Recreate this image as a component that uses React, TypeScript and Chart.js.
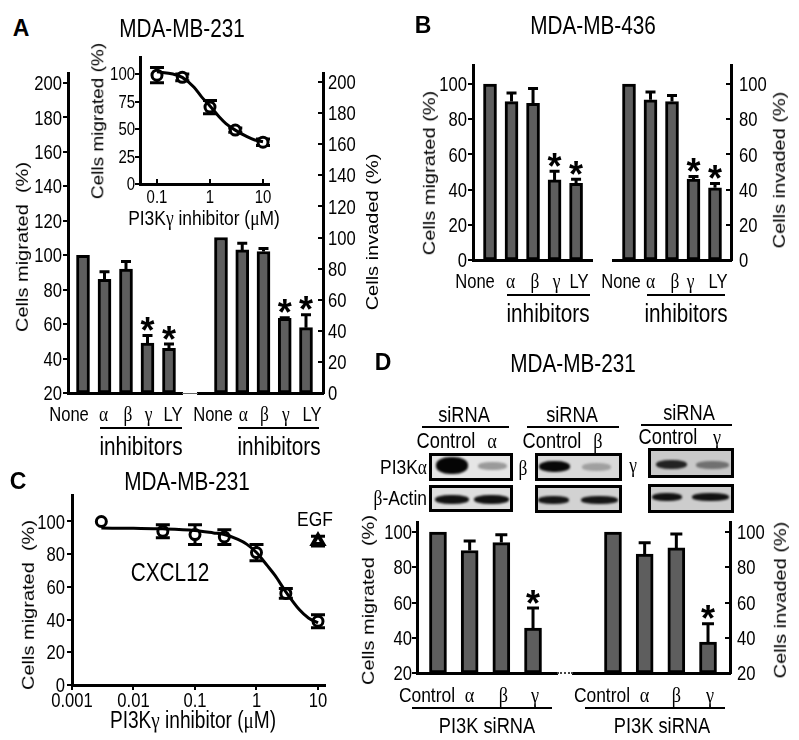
import React, { useEffect, useRef } from 'react';
import { Chart, registerables } from 'chart.js';
Chart.register(...registerables);

const SANS = '"Liberation Sans", Arial, sans-serif';
const SERIF = '"Liberation Serif", "Times New Roman", serif';
const BAR_FILL = '#5e5e5e';
const CX = 0.83; // horizontal condensing of all horizontal text

// ---------- Panel A (MDA-MB-231, inhibitors) ----------
const aLabels = ['None', 'α', 'β', 'γ', 'LY'];
const aMigrated = [100, 86, 92, 49, 46];
const aMigratedErr = [0, 5, 5, 5, 3];
const aInvaded = [100, 92, 91, 48, 42];
const aInvadedErr = [0, 5, 2.5, 1, 9];
const aStars = [false, false, false, true, true];
const aMigTicks = [20, 40, 60, 80, 100, 120, 140, 160, 180, 200];
const aInvTicks = [0, 20, 40, 60, 80, 100, 120, 140, 160, 180, 200];

// Inset of A (dose response)
const insetDose = [0.1, 0.3, 1, 3, 10];
const insetMean = [99, 97, 70, 49, 38];
const insetErr = [7, 3, 6, 2, 3];
const insetFitDose = [0.1, 0.2, 0.3, 0.5, 0.7, 1, 1.5, 2, 3, 5, 7, 10];
const insetFitMean = [102, 100, 97, 88, 79, 71, 61, 55, 49, 43, 40, 38.5];
const insetYTicks = [0, 25, 50, 75, 100];
const insetXTicks = [0.1, 1, 10];

// ---------- Panel B (MDA-MB-436) ----------
const bLabels = ['None', 'α', 'β', 'γ', 'LY'];
const bMigrated = [100, 90, 89, 45.5, 43.5];
const bMigratedErr = [0, 5.5, 9, 5.5, 3];
const bInvaded = [100, 91, 90, 46, 41];
const bInvadedErr = [0, 5, 4, 2, 3];
const bStars = [false, false, false, true, true];
const bTicks = [0, 20, 40, 60, 80, 100];

// ---------- Panel C (dose response) ----------
const cDose = [0.003, 0.03, 0.1, 0.3, 1, 3, 10];
const cMean = [100, 94, 92, 90.5, 81, 56, 39];
const cErr = [0, 4, 6, 4.5, 5, 3, 4];
const cFitDose = [0.003, 0.01, 0.03, 0.1, 0.2, 0.3, 0.5, 0.7, 1, 1.5, 2, 3, 5, 7, 10];
const cFitMean = [96, 95.8, 95.5, 94.5, 93, 92, 89, 86, 81, 73, 67, 57, 46, 41, 38];
const egfDose = [10];
const egfMean = [88];
const egfErr = [3];
const cYTicks = [0, 20, 40, 60, 80, 100];
const cXTicks = [0.001, 0.01, 0.1, 1, 10];

// ---------- Panel D (siRNA) ----------
const dLabels = ['Control', 'α', 'β', 'γ'];
const dMigrated = [100, 89.5, 94, 45.5];
const dMigratedErr = [0, 6, 5, 12];
const dInvaded = [100, 87.5, 91, 37.5];
const dInvadedErr = [0, 7, 8.5, 11];
const dStars = [false, false, false, true];
const dTicks = [20, 40, 60, 80, 100];

// ---------- layout helpers ----------
type Area = { l: number; t: number; r: number; b: number };
const M = { l: 60, r: 60, t: 24, b: 44 };

function canvasRect(a: Area) {
  return { x: a.l - M.l, y: a.t - M.t, w: a.r - a.l + M.l + M.r, h: a.b - a.t + M.t + M.b };
}

const greek = (s?: string) => !!s && /^[αβγ]$/.test(s);

function cText(ctx: any, s: string, x: number, y: number, font: string, align: string) {
  ctx.save();
  ctx.translate(x, y);
  ctx.scale(CX, 1);
  ctx.font = font;
  ctx.textAlign = align;
  ctx.textBaseline = 'alphabetic';
  ctx.fillStyle = '#000';
  ctx.fillText(s, 0, 0);
  ctx.restore();
}

interface LabelSpec {
  ySize: number;
  yGap: number;
  xSize: number;
  xBase: number;
  xLabel: (v: number, i: number) => string;
  xShift?: number[];
}

function drawLabels(chart: any, spec: LabelSpec) {
  const ctx = chart.ctx;
  const a = chart.chartArea;
  const ys = chart.scales.y;
  const xs = chart.scales.x;
  const right = ys.options.position === 'right';
  ys.ticks.forEach((t: any) => {
    const p = ys.getPixelForValue(t.value);
    cText(
      ctx,
      String(t.value),
      right ? a.right + spec.yGap : a.left - spec.yGap,
      p + 0.358 * spec.ySize,
      `${spec.ySize}px ${SANS}`,
      right ? 'left' : 'right'
    );
  });
  xs.ticks.forEach((t: any, i: number) => {
    const label = spec.xLabel(t.value, i);
    const g = greek(label);
    const dx = spec.xShift ? spec.xShift[i] || 0 : 0;
    cText(
      ctx,
      label,
      xs.getPixelForValue(t.value) + dx,
      a.bottom + spec.xBase,
      `${g ? spec.xSize + 1 : spec.xSize}px ${g ? SERIF : SANS}`,
      'center'
    );
  });
}

function drawTickMarks(chart: any, yDir: 'in' | 'out', xDir: 'in' | 'out' | 'none', len = 5) {
  const ctx = chart.ctx;
  const a = chart.chartArea;
  const ys = chart.scales.y;
  const xs = chart.scales.x;
  ctx.save();
  ctx.strokeStyle = '#000';
  ctx.lineWidth = 2;
  ctx.beginPath();
  const right = ys.options.position === 'right';
  const edge = right ? a.right : a.left;
  const sgn = (right ? 1 : -1) * (yDir === 'out' ? 1 : -1);
  ys.ticks.forEach((t: any) => {
    const p = Math.round(ys.getPixelForValue(t.value));
    ctx.moveTo(edge, p);
    ctx.lineTo(edge + sgn * len, p);
  });
  if (xDir !== 'none') {
    const s = xDir === 'out' ? 1 : -1;
    xs.ticks.forEach((t: any) => {
      const p = Math.round(xs.getPixelForValue(t.value));
      ctx.moveTo(p, a.bottom);
      ctx.lineTo(p, a.bottom + s * len);
    });
  }
  ctx.stroke();
  ctx.restore();
}

function axisBase(min: number, max: number, ticks: number[], fit: (s: any) => void, extra: any = {}) {
  return {
    min,
    max,
    offset: false,
    grid: { display: false },
    border: { display: true, color: '#000', width: 3 },
    ticks: { display: false },
    afterBuildTicks: (s: any) => {
      s.ticks = ticks.map((v) => ({ value: v }));
    },
    afterFit: fit,
    ...extra,
  };
}

interface BarCfg {
  side: 'left' | 'right';
  yMin: number;
  yMax: number;
  yTicks: number[];
  yGap: number;
  xMin: number;
  xMax: number;
  labels: string[];
  xShift: number[];
  xBase: number;
  labelSize: number;
  values: number[];
  errs: number[];
  stars: boolean[];
  barW: number;
  cap: number;
}

function barConfig(c: BarCfg) {
  const plugin = {
    id: 'marks',
    afterDatasetsDraw(chart: any) {
      const ctx = chart.ctx;
      const ys = chart.scales.y;
      const meta = chart.getDatasetMeta(0);
      ctx.save();
      ctx.strokeStyle = '#000';
      ctx.fillStyle = '#000';
      ctx.lineWidth = 3;
      c.values.forEach((v, i) => {
        const e = c.errs[i];
        const x = meta.data[i].x;
        const top = ys.getPixelForValue(v + e);
        if (e > 0) {
          const base = ys.getPixelForValue(v);
          ctx.beginPath();
          ctx.moveTo(x, base);
          ctx.lineTo(x, top);
          ctx.moveTo(x - c.cap / 2, top + 1);
          ctx.lineTo(x + c.cap / 2, top + 1);
          ctx.stroke();
        }
        if (c.stars[i]) {
          const size = 36;
          ctx.font = `bold ${size}px ${SANS}`;
          ctx.textAlign = 'center';
          ctx.textBaseline = 'alphabetic';
          ctx.fillText('*', x, top - 12 + 0.573 * size);
        }
      });
      ctx.restore();
    },
    afterDraw(chart: any) {
      drawTickMarks(chart, c.side === 'left' ? 'out' : 'in', 'none');
      drawLabels(chart, {
        ySize: 20,
        yGap: c.yGap,
        xSize: c.labelSize,
        xBase: c.xBase,
        xLabel: (v) => c.labels[v],
        xShift: c.xShift,
      });
    },
  };
  return {
    type: 'bar',
    data: {
      datasets: [
        {
          data: c.values.map((v, i) => ({ x: i, y: v })),
          backgroundColor: BAR_FILL,
          borderColor: '#000',
          borderWidth: 3,
          borderSkipped: false,
          barThickness: c.barW,
          base: c.yMin,
        },
      ],
    },
    options: {
      animation: false,
      responsive: false,
      devicePixelRatio: 1,
      events: [],
      layout: {
        padding: { left: c.side === 'left' ? 0 : M.l, right: c.side === 'right' ? 0 : M.r, top: M.t, bottom: 0 },
      },
      plugins: { legend: { display: false }, tooltip: { enabled: false } },
      scales: {
        x: axisBase(
          c.xMin,
          c.xMax,
          c.labels.map((_, i) => i),
          (s: any) => {
            s.height = M.b;
          },
          { type: 'linear' }
        ),
        y: axisBase(
          c.yMin,
          c.yMax,
          c.yTicks,
          (s: any) => {
            s.width = c.side === 'left' ? M.l : M.r;
          },
          { type: 'linear', position: c.side }
        ),
      },
    },
    plugins: [plugin],
  };
}

interface Series {
  dose: number[];
  mean: number[];
  err: number[];
}

interface CurveCfg {
  xMin: number;
  xMax: number;
  xTicks: number[];
  yMax: number;
  yTicks: number[];
  yGap: number;
  xBase: number;
  tickSize: number;
  points: Series;
  fitDose: number[];
  fitMean: number[];
  extra?: Series;
  cap: number;
  xDir: 'in' | 'out';
}

function curveConfig(c: CurveCfg) {
  const series: Series[] = c.extra ? [c.points, c.extra] : [c.points];
  const plugin = {
    id: 'marks',
    beforeDatasetsDraw(chart: any) {
      const ctx = chart.ctx;
      const xs = chart.scales.x;
      const ys = chart.scales.y;
      ctx.save();
      ctx.strokeStyle = '#000';
      ctx.lineWidth = 3;
      series.forEach((s) =>
        s.dose.forEach((d, i) => {
          const e = s.err[i];
          if (!e) return;
          const x = xs.getPixelForValue(d);
          const t = ys.getPixelForValue(s.mean[i] + e);
          const b = ys.getPixelForValue(s.mean[i] - e);
          ctx.beginPath();
          ctx.moveTo(x, t);
          ctx.lineTo(x, b);
          ctx.moveTo(x - c.cap / 2, t);
          ctx.lineTo(x + c.cap / 2, t);
          ctx.moveTo(x - c.cap / 2, b);
          ctx.lineTo(x + c.cap / 2, b);
          ctx.stroke();
        })
      );
      ctx.restore();
    },
    afterDraw(chart: any) {
      drawTickMarks(chart, 'out', c.xDir);
      drawLabels(chart, {
        ySize: c.tickSize,
        yGap: c.yGap,
        xSize: c.tickSize,
        xBase: c.xBase,
        xLabel: (v) => String(v),
      });
    },
  };
  const datasets: any[] = [
    {
      data: c.fitDose.map((x, i) => ({ x, y: c.fitMean[i] })),
      borderColor: '#000',
      borderWidth: 3,
      pointRadius: 0,
      cubicInterpolationMode: 'monotone',
      fill: false,
      clip: false,
    },
    {
      data: c.points.dose.map((x, i) => ({ x, y: c.points.mean[i] })),
      showLine: false,
      pointStyle: 'circle',
      pointRadius: 5,
      pointBorderWidth: 3,
      pointBackgroundColor: '#fff',
      pointBorderColor: '#000',
      clip: false,
    },
  ];
  if (c.extra) {
    datasets.push({
      data: c.extra.dose.map((x, i) => ({ x, y: c.extra!.mean[i] })),
      showLine: false,
      pointStyle: 'triangle',
      pointRadius: 6,
      pointBorderWidth: 4,
      pointBackgroundColor: '#fff',
      pointBorderColor: '#000',
      clip: false,
    });
  }
  return {
    type: 'line',
    data: { datasets },
    options: {
      animation: false,
      responsive: false,
      devicePixelRatio: 1,
      events: [],
      layout: { padding: { left: 0, right: M.r, top: M.t, bottom: 0 } },
      plugins: { legend: { display: false }, tooltip: { enabled: false } },
      scales: {
        x: axisBase(
          c.xMin,
          c.xMax,
          c.xTicks,
          (s: any) => {
            s.height = M.b;
          },
          { type: 'logarithmic' }
        ),
        y: axisBase(
          0,
          c.yMax,
          c.yTicks,
          (s: any) => {
            s.width = M.l;
          },
          { type: 'linear', position: 'left' }
        ),
      },
    },
    plugins: [plugin],
  };
}

function ChartBox({ area, make }: { area: Area; make: () => any }) {
  const ref = useRef<HTMLCanvasElement>(null);
  useEffect(() => {
    const chart = new Chart(ref.current as HTMLCanvasElement, make());
    return () => chart.destroy();
  }, []);
  const r = canvasRect(area);
  return (
    <canvas
      ref={ref}
      width={r.w}
      height={r.h}
      style={{ position: 'absolute', left: r.x, top: r.y, width: r.w, height: r.h }}
    />
  );
}

// ---------- text helpers ----------
function T(props: {
  x: number;
  y: number;
  size: number;
  font?: string;
  bold?: boolean;
  rot?: boolean;
  plain?: boolean;
  align?: 'center' | 'right';
  children: React.ReactNode;
}) {
  const { x, y, size, font = SANS, bold, rot, plain, align = 'center', children } = props;
  const tx = align === 'right' ? '-100%' : '-50%';
  let transform = `translate(${tx},-50%)`;
  if (rot) transform += ` rotate(-90deg) scaleY(${CX})`;
  else if (!plain) transform += ` scaleX(${CX})`;
  return (
    <div
      style={{
        position: 'absolute',
        left: x,
        top: y,
        fontFamily: font,
        fontSize: size,
        fontWeight: bold ? 'bold' : 'normal',
        lineHeight: 1,
        whiteSpace: 'pre',
        transform,
        transformOrigin: align === 'right' ? 'right center' : 'center center',
      }}
    >
      {children}
    </div>
  );
}

const G = ({ c }: { c: string }) => <span style={{ fontFamily: SERIF }}>{c}</span>;

function HLine({ x1, x2, y, w = 2, color = '#000', dashed }: { x1: number; x2: number; y: number; w?: number; color?: string; dashed?: boolean }) {
  return (
    <div
      style={{
        position: 'absolute',
        left: x1,
        top: y - w / 2,
        width: x2 - x1,
        height: dashed ? 0 : w,
        background: dashed ? 'transparent' : color,
        borderTop: dashed ? `${w}px dotted ${color}` : undefined,
      }}
    />
  );
}

// ---------- western blot drawing (decorative image) ----------
type Band = [number, number, number, number, string];
interface Blot {
  box: [number, number, number, number];
  fill: string;
  bands: Band[];
}
const blots: Blot[] = [
  { box: [429, 453, 513, 481], fill: '#e6e6e6', bands: [[436, 457, 468, 474, '#050505'], [478, 462, 507, 470, '#9a9a9a']] },
  { box: [429, 485, 513, 512], fill: '#dedede', bands: [[435, 495, 469, 504, '#111'], [474, 495, 509, 504, '#111']] },
  { box: [535, 453, 622, 481], fill: '#d9d9d9', bands: [[539, 461, 570, 472, '#080808'], [582, 463, 611, 471, '#a0a0a0']] },
  { box: [535, 485, 622, 513], fill: '#d2d2d2', bands: [[538, 496, 569, 504, '#151515'], [581, 496, 618, 504, '#151515']] },
  { box: [648, 448, 734, 478], fill: '#c9c9c9', bands: [[656, 460, 687, 469, '#222'], [696, 461, 729, 469, '#707070']] },
  { box: [648, 484, 734, 513], fill: '#cdcdcd', bands: [[652, 493, 682, 501, '#111'], [692, 493, 729, 501, '#111']] },
];

function BlotView({ b }: { b: Blot }) {
  const [l, t, r, bt] = b.box;
  return (
    <>
      <div
        style={{
          position: 'absolute',
          left: l,
          top: t,
          width: r - l,
          height: bt - t,
          boxSizing: 'border-box',
          border: '3px solid #000',
          background: b.fill,
        }}
      />
      {b.bands.map(([x1, y1, x2, y2, col], i) => (
        <div
          key={i}
          style={{
            position: 'absolute',
            left: x1,
            top: y1,
            width: x2 - x1,
            height: y2 - y1,
            background: col,
            borderRadius: '45%',
            filter: 'blur(1.2px)',
          }}
        />
      ))}
    </>
  );
}

// ---------- chart areas and label nudges (layout only) ----------
const areaALeft: Area = { l: 68, t: 73, r: 182, b: 393 };
const areaARight: Area = { l: 198, t: 73, r: 323, b: 393 };
const areaInset: Area = { l: 140, t: 57, r: 269, b: 184 };
const areaBLeft: Area = { l: 473, t: 65, r: 592, b: 260 };
const areaBRight: Area = { l: 613, t: 65, r: 731, b: 260 };
const areaC: Area = { l: 72, t: 495, r: 325, b: 685 };
const areaDLeft: Area = { l: 417, t: 522, r: 557, b: 673 };
const areaDRight: Area = { l: 573, t: 522, r: 730, b: 673 };
const shiftALeft = [-14, -1, 2, 1, 4];
const shiftARight = [-8, 1, 1, 1, 6];
const shiftBLeft = [-15, -1, 2, 2, 3];
const shiftBRight = [-8, 0, 3, -3, 3];
const shiftDLeft = [-11, 0, 2, 2];
const shiftDRight = [-11, 0, 0, 2];

export default function App() {
  return (
    <div
      style={{
        position: 'absolute',
        left: 0,
        top: 0,
        width: 799,
        height: 740,
        background: '#fff',
        overflow: 'hidden',
        color: '#000',
      }}
    >
      {/* Panel A */}
      <ChartBox
        area={areaALeft}
        make={() =>
          barConfig({
            side: 'left', yMin: 20, yMax: 205.8, yTicks: aMigTicks, yGap: 6,
            xMin: -0.698, xMax: 4.605, labels: aLabels, xShift: shiftALeft, xBase: 28, labelSize: 20,
            values: aMigrated, errs: aMigratedErr, stars: aStars, barW: 13, cap: 10,
          })
        }
      />
      <ChartBox
        area={areaARight}
        make={() =>
          barConfig({
            side: 'right', yMin: 0, yMax: 205.8, yTicks: aInvTicks, yGap: 5,
            xMin: -1.082, xMax: 4.8, labels: aLabels, xShift: shiftARight, xBase: 28, labelSize: 20,
            values: aInvaded, errs: aInvadedErr, stars: aStars, barW: 13, cap: 10,
          })
        }
      />
      <HLine x1={182} x2={198} y={393} w={1} color="#666" />
      <ChartBox
        area={areaInset}
        make={() =>
          curveConfig({
            xMin: 0.0478, xMax: 12.98, xTicks: insetXTicks, yMax: 115.5, yTicks: insetYTicks,
            yGap: 5, xBase: 19, tickSize: 18,
            points: { dose: insetDose, mean: insetMean, err: insetErr },
            fitDose: insetFitDose, fitMean: insetFitMean, cap: 14, xDir: 'in',
          })
        }
      />
      <T x={21} y={28} size={23} bold plain>A</T>
      <T x={182} y={28} size={25}>MDA-MB-231</T>
      <T x={98} y={121} size={19} rot>Cells migrated (%)</T>
      <T x={204} y={218} size={21}>PI3K<G c="γ" /> inhibitor (<G c="μ" />M)</T>
      <T x={22} y={247} size={20} rot>Cells migrated  (%)</T>
      <T x={372} y={232} size={20} rot>Cells invaded (%)</T>
      <HLine x1={100} x2={182} y={428} />
      <HLine x1={238} x2={319} y={428} />
      <T x={141} y={446} size={25}>inhibitors</T>
      <T x={279} y={446} size={25}>inhibitors</T>

      {/* Panel B */}
      <ChartBox
        area={areaBLeft}
        make={() =>
          barConfig({
            side: 'left', yMin: 0, yMax: 110.8, yTicks: bTicks, yGap: 6,
            xMin: -0.79, xMax: 4.74, labels: bLabels, xShift: shiftBLeft, xBase: 28, labelSize: 20,
            values: bMigrated, errs: bMigratedErr, stars: bStars, barW: 13, cap: 10,
          })
        }
      />
      <ChartBox
        area={areaBRight}
        make={() =>
          barConfig({
            side: 'right', yMin: 0, yMax: 110.8, yTicks: bTicks, yGap: 8,
            xMin: -0.744, xMax: 4.744, labels: bLabels, xShift: shiftBRight, xBase: 28, labelSize: 20,
            values: bInvaded, errs: bInvadedErr, stars: bStars, barW: 13, cap: 10,
          })
        }
      />
      <T x={423} y={25} size={23} bold plain>B</T>
      <T x={593} y={25} size={25}>MDA-MB-436</T>
      <T x={429} y={173} size={20} rot>Cells migrated (%)</T>
      <T x={779} y={170} size={20} rot>Cells invaded (%)</T>
      <HLine x1={507} x2={590} y={295} />
      <HLine x1={647} x2={725} y={295} />
      <T x={548} y={313} size={25}>inhibitors</T>
      <T x={686} y={313} size={25}>inhibitors</T>

      {/* Panel C */}
      <ChartBox
        area={areaC}
        make={() =>
          curveConfig({
            xMin: 0.001, xMax: 13.0, xTicks: cXTicks, yMax: 116.2, yTicks: cYTicks,
            yGap: 7, xBase: 22, tickSize: 20,
            points: { dose: cDose, mean: cMean, err: cErr },
            extra: { dose: egfDose, mean: egfMean, err: egfErr },
            fitDose: cFitDose, fitMean: cFitMean, cap: 14, xDir: 'out',
          })
        }
      />
      <T x={18} y={481} size={23} bold plain>C</T>
      <T x={187} y={481} size={25}>MDA-MB-231</T>
      <T x={28} y={605} size={20} rot>Cells migrated  (%)</T>
      <T x={193} y={720} size={23}>PI3K<G c="γ" /> inhibitor (<G c="μ" />M)</T>
      <T x={170} y={572} size={25}>CXCL12</T>
      <T x={315} y={518} size={21}>EGF</T>

      {/* Panel D */}
      <T x={383} y={362} size={23} bold plain>D</T>
      <T x={573} y={363} size={25}>MDA-MB-231</T>
      <T x={464} y={415} size={22}>siRNA</T>
      <T x={572} y={415} size={22}>siRNA</T>
      <T x={689} y={413} size={22}>siRNA</T>
      <HLine x1={422} x2={509} y={427} />
      <HLine x1={527} x2={619} y={427} />
      <HLine x1={641} x2={732} y={425} />
      <T x={446} y={441} size={22}>Control</T>
      <T x={492} y={441} size={22} font={SERIF}>α</T>
      <T x={552} y={441} size={22}>Control</T>
      <T x={598} y={441} size={22} font={SERIF}>β</T>
      <T x={668} y={437} size={22}>Control</T>
      <T x={717} y={437} size={22} font={SERIF}>γ</T>
      {blots.map((b, i) => (
        <BlotView key={i} b={b} />
      ))}
      <T x={427} y={467} size={21} align="right">PI3K<G c="α" /></T>
      <T x={427} y={498} size={21} align="right"><G c="β" />-Actin</T>
      <T x={523} y={468} size={21} font={SERIF}>β</T>
      <T x={633} y={465} size={21} font={SERIF}>γ</T>

      <ChartBox
        area={areaDLeft}
        make={() =>
          barConfig({
            side: 'left', yMin: 20, yMax: 105.7, yTicks: dTicks, yGap: 5,
            xMin: -0.662, xMax: 3.757, labels: dLabels, xShift: shiftDLeft, xBase: 29, labelSize: 21,
            values: dMigrated, errs: dMigratedErr, stars: dStars, barW: 17, cap: 12,
          })
        }
      />
      <ChartBox
        area={areaDRight}
        make={() =>
          barConfig({
            side: 'right', yMin: 20, yMax: 105.7, yTicks: dTicks, yGap: 7,
            xMin: -1.262, xMax: 3.694, labels: dLabels, xShift: shiftDRight, xBase: 29, labelSize: 21,
            values: dInvaded, errs: dInvadedErr, stars: dStars, barW: 17, cap: 12,
          })
        }
      />
      <HLine x1={557} x2={573} y={673} w={2} color="#444" dashed />
      <T x={368} y={600} size={20} rot>Cells migrated  (%)</T>
      <T x={780} y={600} size={20} rot>Cells invaded (%)</T>
      <HLine x1={412} x2={552} y={708} />
      <HLine x1={585} x2={725} y={708} />
      <T x={487} y={726} size={22}>PI3K siRNA</T>
      <T x={662} y={726} size={22}>PI3K siRNA</T>
    </div>
  );
}
